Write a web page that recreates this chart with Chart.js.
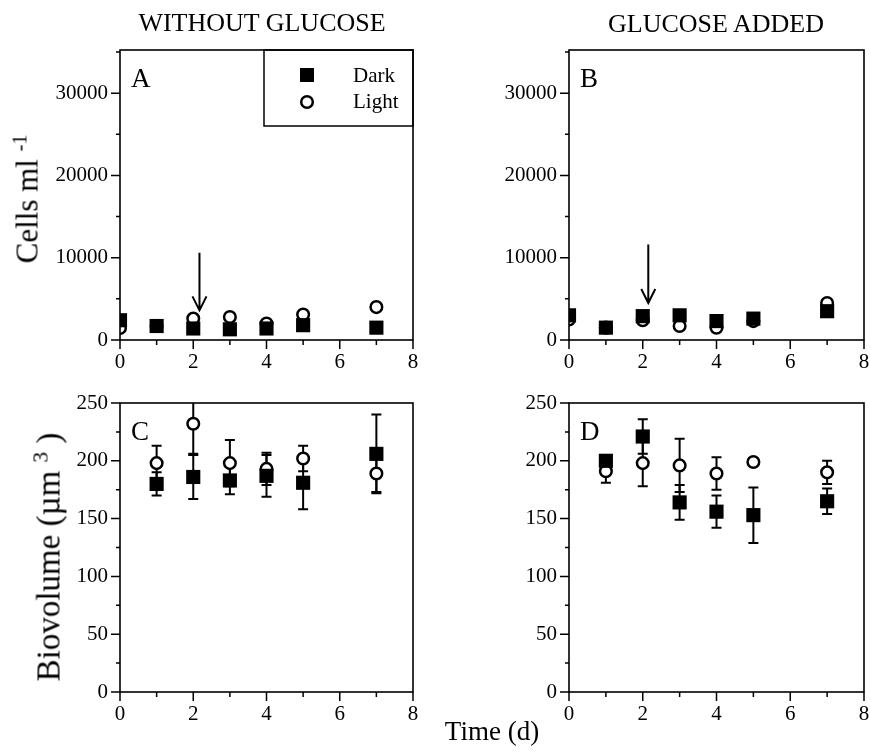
<!DOCTYPE html>
<html>
<head>
<meta charset="utf-8">
<script src="https://cdn.jsdelivr.net/npm/chart.js@4.4.0/dist/chart.umd.min.js"></script>
<style>
  body { margin: 0; background: #fff; overflow: hidden; }
  #fig { position: relative; width: 870px; height: 752px; overflow: hidden; font-family: "Liberation Serif", "Times New Roman", serif; color: #000; }
  #fig canvas { position: absolute; }
  .lbl { position: absolute; white-space: nowrap; font-size: 26px; line-height: 26px; }
  .ctr { transform: translateX(-50%); }
  .rot { transform: translate(-50%, -50%) rotate(-90deg); }
  sup { font-size: 0.65em; line-height: 0; vertical-align: 0.55em; }
</style>
</head>
<body>
<div id="fig">
  <canvas id="panelA" width="440" height="375" style="left:0;top:0"></canvas>
  <canvas id="panelB" width="440" height="375" style="left:440px;top:0"></canvas>
  <canvas id="panelC" width="440" height="377" style="left:0;top:375px"></canvas>
  <canvas id="panelD" width="440" height="377" style="left:440px;top:375px"></canvas>

  <div class="lbl ctr" style="left:262px;top:10px">WITHOUT GLUCOSE</div>
  <div class="lbl ctr" style="left:716px;top:11px">GLUCOSE ADDED</div>
  <div class="lbl rot" style="left:27px;top:199px;font-size:31px;line-height:31px">Cells ml <sup>-1</sup></div>
  <div class="lbl rot" style="left:49px;top:557px;font-size:33px;line-height:33px">Biovolume (µm <sup>3</sup> )</div>
  <div class="lbl ctr" style="left:492px;top:718px;font-size:27px;line-height:27px">Time (d)</div>
</div>

<script>
// sampling days
const cellDays = [0, 1, 2, 3, 4, 5, 7];
const bioDays = [1, 2, 3, 4, 5, 7];

// A: cells, without glucose
const cellsDarkA = [2400, 1700, 1400, 1300, 1400, 1800, 1500];
const cellsLightA = [1450, 1700, 2600, 2800, 2000, 3100, 4000];
// B: cells, glucose added
const cellsDarkB = [3000, 1500, 2900, 3000, 2300, 2600, 3500];
const cellsLightB = [2500, 1500, 2400, 1700, 1500, 2300, 4500];

// C: biovolume, without glucose (mean and error)
const bioDarkC = [180, 186, 183, 187, 181, 206];
const bioDarkCErr = [10, 19, 12, 18, 23, 34];
const bioLightC = [198, 232, 198, 193, 202, 189];
const bioLightCErr = [15, 26, 20, 14, 11, 16];
// D: biovolume, glucose added
const bioDarkD = [200, 221, 164, 156, 153, 165];
const bioDarkDErr = [5, 15, 15, 14, 24, 11];
const bioLightD = [191, 198, 196, 189, 199, 190];
const bioLightDErr = [10, 20, 23, 14, 2, 10];

// glucose addition arrows: [day, from, to]
const arrowA = [2.17, 10600, 3600];
const arrowB = [2.15, 11600, 4500];

// tick labels
const dayLabels = [0, 2, 4, 6, 8];
const cellLabels = [0, 10000, 20000, 30000];
const bioLabels = [0, 50, 100, 150, 200, 250];

const FONT = "Liberation Serif";

function toPoints(xs, ys) {
  return xs.map((x, i) => ({ x: x, y: ys[i] }));
}

const decor = {
  id: "decor",
  beforeDatasetsDraw(chart, args, o) {
    // error bars under the markers
    const { ctx, chartArea: a, scales: { x, y } } = chart;
    ctx.save();
    ctx.beginPath();
    ctx.rect(a.left, a.top, a.right - a.left, a.bottom - a.top);
    ctx.clip();
    ctx.strokeStyle = "#000";
    ctx.lineWidth = 2;
    chart.data.datasets.forEach(ds => {
      if (!ds.errors) return;
      ds.data.forEach((p, i) => {
        const px = x.getPixelForValue(p.x);
        const hi = y.getPixelForValue(p.y + ds.errors[i]);
        const lo = y.getPixelForValue(p.y - ds.errors[i]);
        ctx.beginPath();
        ctx.moveTo(px, hi); ctx.lineTo(px, lo);
        ctx.moveTo(px - 5, hi); ctx.lineTo(px + 5, hi);
        ctx.moveTo(px - 5, lo); ctx.lineTo(px + 5, lo);
        ctx.stroke();
      });
    });
    ctx.restore();
  },
  afterDraw(chart, args, o) {
    const { ctx, chartArea: a, scales: { x, y } } = chart;
    ctx.save();
    ctx.strokeStyle = "#000";
    ctx.fillStyle = "#000";

    // frame
    ctx.lineWidth = 1.6;
    ctx.strokeRect(a.left, a.top, a.right - a.left, a.bottom - a.top);

    // outward ticks, long where labelled
    ctx.lineWidth = 1.5;
    ctx.beginPath();
    x.ticks.forEach(t => {
      const px = x.getPixelForValue(t.value);
      const len = dayLabels.includes(t.value) ? 9 : 5;
      ctx.moveTo(px, a.bottom); ctx.lineTo(px, a.bottom + len);
    });
    y.ticks.forEach(t => {
      const py = y.getPixelForValue(t.value);
      const len = o.yLabels.includes(t.value) ? 9 : 4;
      ctx.moveTo(a.left - len, py); ctx.lineTo(a.left, py);
    });
    ctx.stroke();

    // panel letter
    ctx.font = "27px " + FONT;
    ctx.textBaseline = "alphabetic";
    ctx.fillText(o.letter, a.left + 11, a.top + 37);

    // arrow
    if (o.arrow) {
      const px = x.getPixelForValue(o.arrow[0]);
      const p0 = y.getPixelForValue(o.arrow[1]);
      const p1 = y.getPixelForValue(o.arrow[2]);
      ctx.lineWidth = 2;
      ctx.beginPath();
      ctx.moveTo(px, p0); ctx.lineTo(px, p1);
      ctx.moveTo(px - 7, p1 - 14); ctx.lineTo(px, p1); ctx.lineTo(px + 7, p1 - 14);
      ctx.stroke();
    }

    // boxed legend
    if (o.legend) {
      const l = a.right - 149, t = a.top;
      ctx.lineWidth = 1.5;
      ctx.strokeRect(l, t, a.right - l, 76);
      ctx.fillRect(l + 36, t + 18, 14, 14);
      ctx.beginPath();
      ctx.arc(l + 43, t + 52, 5.8, 0, Math.PI * 2);
      ctx.lineWidth = 2.5;
      ctx.stroke();
      ctx.font = "21px " + FONT;
      ctx.fillText("Dark", l + 89, t + 32);
      ctx.fillText("Light", l + 89, t + 58);
    }
    ctx.restore();
  }
};

// evenly spaced tick values from 0 up to the axis max
function stepTicks(step) {
  return s => {
    const vals = [];
    for (let v = 0; v <= s.max + 1e-9; v += step) vals.push({ value: v });
    s.ticks = vals;
  };
}

function makePanel(id, p) {
  const ctx = document.getElementById(id).getContext("2d");
  return new Chart(ctx, {
    type: "scatter",
    data: {
      datasets: [
        {
          label: "Dark",
          data: toPoints(p.days, p.dark),
          errors: p.darkErr,
          pointStyle: "rect",
          pointRadius: 10,
          pointHoverRadius: 10,
          pointBackgroundColor: "#000",
          pointBorderWidth: 0
        },
        {
          label: "Light",
          data: toPoints(p.days, p.light),
          errors: p.lightErr,
          pointStyle: "circle",
          pointRadius: 5.8,
          pointHoverRadius: 5.8,
          pointBackgroundColor: "#fff",
          pointBorderColor: "#000",
          pointBorderWidth: 2.5
        }
      ]
    },
    options: {
      responsive: false,
      animation: false,
      devicePixelRatio: 1,
      layout: { padding: p.padding },
      plugins: {
        legend: { display: false },
        tooltip: { enabled: false },
        decor: { letter: p.letter, legend: p.legend, arrow: p.arrow, yLabels: p.yLabels }
      },
      scales: {
        x: {
          type: "linear",
          min: 0,
          max: 8,
          afterBuildTicks: stepTicks(1),
          afterFit: s => { s.height = 35; },
          grid: { display: false, drawTicks: false },
          border: { display: false },
          ticks: {
            autoSkip: false,
            maxRotation: 0,
            padding: 10,
            color: "#000",
            font: { family: FONT, size: 21 },
            callback: v => dayLabels.includes(v) ? String(v) : ""
          }
        },
        y: {
          min: 0,
          max: p.yMax,
          afterBuildTicks: stepTicks(p.yStep),
          afterFit: s => { s.width = p.yWidth; },
          grid: { display: false, drawTicks: false },
          border: { display: false },
          ticks: {
            autoSkip: false,
            padding: 12,
            color: "#000",
            font: { family: FONT, size: 21 },
            callback: v => p.yLabels.includes(v) ? String(v) : ""
          }
        }
      }
    },
    plugins: [decor]
  });
}

makePanel("panelA", {
  letter: "A", legend: true, arrow: arrowA,
  days: cellDays, dark: cellsDarkA, light: cellsLightA,
  yMax: 35250, yStep: 5000, yLabels: cellLabels, yWidth: 120,
  padding: { top: 50, right: 27, left: 0, bottom: 0 }
});
makePanel("panelB", {
  letter: "B", legend: false, arrow: arrowB,
  days: cellDays, dark: cellsDarkB, light: cellsLightB,
  yMax: 35250, yStep: 5000, yLabels: cellLabels, yWidth: 129,
  padding: { top: 50, right: 16, left: 0, bottom: 0 }
});
makePanel("panelC", {
  letter: "C", legend: false,
  days: bioDays, dark: bioDarkC, light: bioLightC, darkErr: bioDarkCErr, lightErr: bioLightCErr,
  yMax: 250, yStep: 25, yLabels: bioLabels, yWidth: 120,
  padding: { top: 28, right: 27, left: 0, bottom: 25 }
});
makePanel("panelD", {
  letter: "D", legend: false,
  days: bioDays, dark: bioDarkD, light: bioLightD, darkErr: bioDarkDErr, lightErr: bioLightDErr,
  yMax: 250, yStep: 25, yLabels: bioLabels, yWidth: 129,
  padding: { top: 28, right: 16, left: 0, bottom: 25 }
});
</script>
</body>
</html>
